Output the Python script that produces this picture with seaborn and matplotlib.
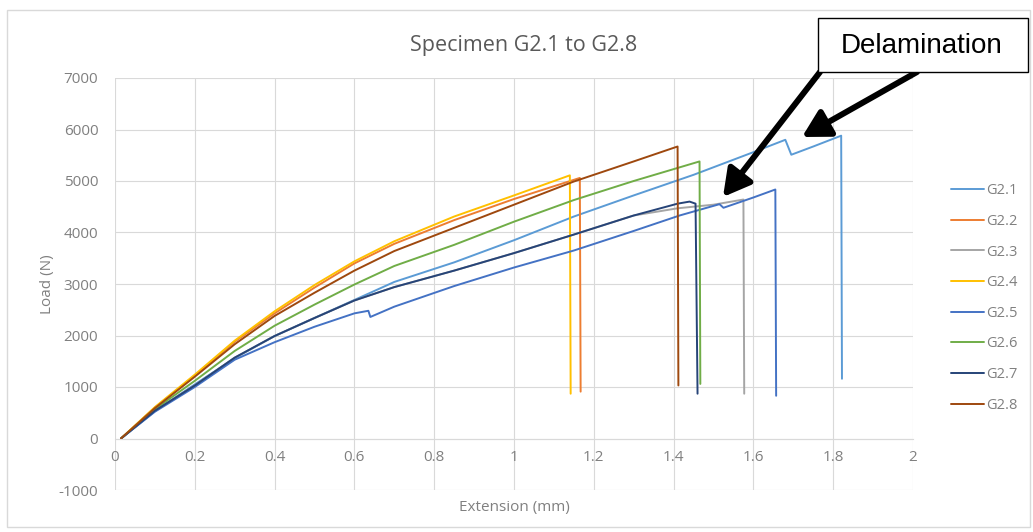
import pandas as pd
import matplotlib.pyplot as plt
import seaborn as sns
from matplotlib.patches import Rectangle

# Values (extension in mm, load in N)
specimens = ['G2.1', 'G2.2', 'G2.3', 'G2.4', 'G2.5', 'G2.6', 'G2.7', 'G2.8']
colors = ['#5B9BD5', '#ED7D31', '#A5A5A5', '#FFC000', '#4472C4', '#70AD47', '#264478', '#9E480E']

g21_x = [0.015, 0.1, 0.2, 0.3, 0.4, 0.5, 0.6, 0.7, 0.85, 1.0, 1.15, 1.3, 1.45, 1.6, 1.68, 1.695, 1.75, 1.82, 1.822]
g21_y = [0, 530, 1050, 1560, 1990, 2340, 2690, 3040, 3420, 3850, 4310, 4720, 5120, 5560, 5800, 5510, 5670, 5880, 1160]

g22_x = [0.015, 0.1, 0.2, 0.3, 0.4, 0.5, 0.6, 0.7, 0.85, 1.0, 1.165, 1.167]
g22_y = [0, 600, 1220, 1880, 2430, 2930, 3400, 3780, 4240, 4650, 5060, 910]

g23_x = [0.015, 0.1, 0.2, 0.3, 0.4, 0.5, 0.6, 0.7, 0.85, 1.0, 1.15, 1.3, 1.41, 1.5, 1.575, 1.577]
g23_y = [0, 540, 1030, 1570, 1990, 2340, 2680, 2940, 3260, 3600, 3960, 4330, 4470, 4540, 4640, 870]

g24_x = [0.015, 0.1, 0.2, 0.3, 0.4, 0.5, 0.6, 0.7, 0.85, 1.0, 1.14, 1.142]
g24_y = [0, 610, 1240, 1900, 2470, 2980, 3440, 3830, 4310, 4720, 5110, 870]

g25_x = [0.015, 0.1, 0.2, 0.3, 0.4, 0.5, 0.6, 0.635, 0.64, 0.7, 0.85, 1.0, 1.15, 1.3, 1.415, 1.465, 1.515, 1.525, 1.6, 1.655, 1.657]
g25_y = [0, 520, 1000, 1530, 1870, 2170, 2430, 2480, 2360, 2560, 2960, 3320, 3650, 4030, 4330, 4440, 4550, 4480, 4680, 4835, 830]

g26_x = [0.015, 0.1, 0.2, 0.3, 0.4, 0.5, 0.6, 0.7, 0.85, 1.0, 1.15, 1.3, 1.465, 1.467]
g26_y = [0, 570, 1120, 1700, 2190, 2600, 2990, 3350, 3760, 4210, 4630, 5000, 5380, 1060]

g27_x = [0.015, 0.1, 0.2, 0.3, 0.4, 0.5, 0.6, 0.7, 0.85, 1.0, 1.15, 1.3, 1.41, 1.44, 1.455, 1.46]
g27_y = [0, 540, 1030, 1570, 1990, 2340, 2680, 2940, 3260, 3600, 3960, 4330, 4560, 4600, 4560, 870]

g28_x = [0.015, 0.1, 0.2, 0.3, 0.4, 0.5, 0.6, 0.7, 0.85, 1.0, 1.15, 1.3, 1.41, 1.412]
g28_y = [0, 590, 1200, 1830, 2380, 2830, 3260, 3640, 4090, 4540, 4990, 5380, 5670, 1030]

all_x = [g21_x, g22_x, g23_x, g24_x, g25_x, g26_x, g27_x, g28_x]
all_y = [g21_y, g22_y, g23_y, g24_y, g25_y, g26_y, g27_y, g28_y]

# long form table for seaborn
rows = []
for name, xs, ys in zip(specimens, all_x, all_y):
    for xv, yv in zip(xs, ys):
        rows.append({'spec': name, 'ext': xv, 'load': yv})
df = pd.DataFrame(rows)

sns.set_style('white')
plt.rcParams['font.family'] = ['Open Sans', 'DejaVu Sans']
plt.rcParams['axes.unicode_minus'] = False

W, H = 1033, 532
fig = plt.figure(figsize=(W / 100, H / 100), dpi=100)
ax = fig.add_axes([115 / W, (H - 490) / H, 798 / W, 412 / H])

sns.lineplot(data=df, x='ext', y='load', hue='spec', palette=colors, sort=False,
             estimator=None, units='spec', linewidth=1.4, ax=ax)

ax.set_xlim(0, 2)
ax.set_ylim(-1000, 7000)
ax.set_xticks([0, 0.2, 0.4, 0.6, 0.8, 1, 1.2, 1.4, 1.6, 1.8, 2])
ax.set_xticklabels(['0', '0.2', '0.4', '0.6', '0.8', '1', '1.2', '1.4', '1.6', '1.8', '2'])
ax.set_yticks(range(-1000, 7001, 1000))
ax.grid(True, color='#D9D9D9', linewidth=0.8)
ax.set_axisbelow(True)
for s in ['top', 'right', 'left']:
    ax.spines[s].set_visible(False)
ax.spines['bottom'].set_position(('data', 0))
ax.spines['bottom'].set_color('#D9D9D9')
ax.spines['bottom'].set_linewidth(0.8)
ax.tick_params(axis='x', length=0, pad=8, labelsize=11, labelcolor='#808080')
ax.tick_params(axis='y', length=0, pad=12, labelsize=11, labelcolor='#808080')

ax.set_xlabel('Extension (mm)', fontsize=11, color='#808080')
ax.xaxis.set_label_coords(0.5, -0.025)
ax.set_ylabel('Load (N)', fontsize=11, color='#808080', labelpad=3)

handles, labels = ax.get_legend_handles_labels()
ax.legend(handles, labels, loc='center left', bbox_to_anchor=(938 / W, (H - 298) / H),
          bbox_transform=fig.transFigure, frameon=False, fontsize=10.5, labelcolor='#808080',
          handlelength=2.25, handletextpad=0.15, labelspacing=1.07)

fig.text(524 / W, (H - 45) / H, 'Specimen G2.1 to G2.8', ha='center', va='center',
         fontsize=15.5, color='#595959')

# chart outer border
fig.add_artist(Rectangle((7 / W, (H - 527) / H), 1023 / W, 517 / H, transform=fig.transFigure,
                         fill=False, edgecolor='#D9D9D9', linewidth=1))

# callout box and arrows
fig.add_artist(Rectangle((818 / W, (H - 72) / H), 210 / W, 54 / H, transform=fig.transFigure,
                         facecolor='white', edgecolor='black', linewidth=1, zorder=5))
fig.text(922 / W, (H - 46) / H, 'Delamination', ha='center', va='center', fontsize=20,
         family='Liberation Sans', color='black', zorder=6)

arrow = dict(arrowstyle='-|>,head_length=0.9,head_width=0.5', color='black', lw=4.3,
             mutation_scale=18, shrinkA=0, shrinkB=0)
ax.annotate('', xy=(723, H - 197), xycoords='figure pixels', xytext=(820, H - 72),
            textcoords='figure pixels', arrowprops=arrow, zorder=6)
ax.annotate('', xy=(802, H - 137), xycoords='figure pixels', xytext=(917, H - 72),
            textcoords='figure pixels', arrowprops=arrow, zorder=6)

fig.savefig('out.png', dpi=100)
